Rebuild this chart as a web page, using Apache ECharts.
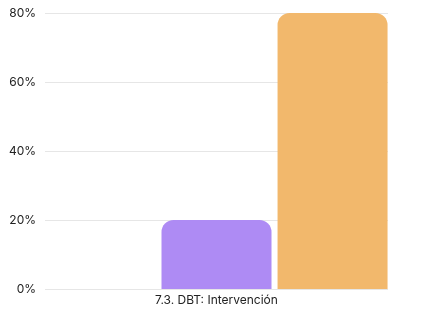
<!DOCTYPE html>
<html><head><meta charset="utf-8">
<script src="https://cdn.jsdelivr.net/npm/echarts@6/dist/echarts.min.js"></script>
<style>html,body{margin:0;padding:0;background:#fff}#c{width:444px;height:318px}</style>
</head><body><div id="c"></div>
<script>
const categories = ["7.3. DBT: Intervención"];
const seriesA = [0];
const seriesB = [20];
const seriesC = [80];
const yTicks = [0, 20, 40, 60, 80];

const chart = echarts.init(document.getElementById('c'), null, {renderer: 'canvas'});
const radius = [12, 12, 0, 0];
chart.setOption({
  animation: false,
  grid: {left: 45, right: 56, top: 13, bottom: 29, containLabel: false},
  xAxis: {
    type: 'category', data: categories,
    axisLine: {show: false}, axisTick: {show: false},
    axisLabel: {color: '#222', fontFamily: 'Inter', fontSize: 12, margin: 5}
  },
  yAxis: {
    type: 'value', min: yTicks[0], max: yTicks[yTicks.length - 1], interval: 20,
    axisLine: {show: false}, axisTick: {show: false},
    axisLabel: {color: '#222', fontFamily: 'Inter', fontSize: 12, formatter: '{value}%', margin: 9},
    splitLine: {lineStyle: {color: '#e6e6e6', width: 1}}
  },
  series: [
    {type: 'bar', data: seriesA, barWidth: 110, barGap: '5.5%', itemStyle: {color: '#6fb3e8', borderRadius: radius}},
    {type: 'bar', data: seriesB, barWidth: 110, barGap: '5.5%', itemStyle: {color: '#ae8bf4', borderRadius: radius}},
    {type: 'bar', data: seriesC, barWidth: 110, barGap: '5.5%', itemStyle: {color: '#f2b86c', borderRadius: radius}}
  ]
});
</script></body></html>
